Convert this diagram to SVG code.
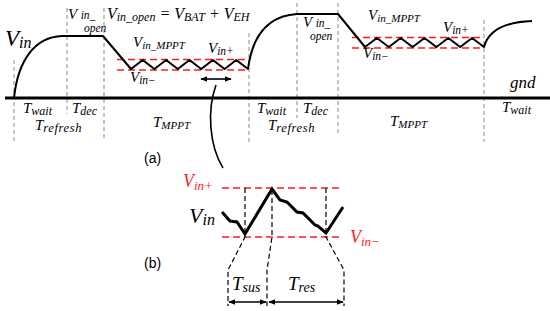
<svg xmlns="http://www.w3.org/2000/svg" width="550" height="311" viewBox="0 0 550 311">
<style>
.m{font-family:"Liberation Serif","DejaVu Serif",serif;font-style:italic;fill:#000}
.r{fill:#ff1a1a}
.s{font-family:"Liberation Sans",Arial,sans-serif;font-size:14px;fill:#000}
.wave{fill:none;stroke:#000;stroke-width:2;stroke-linejoin:round}
.gd{fill:none;stroke:#8a8a8a;stroke-width:1;stroke-dasharray:4 3}
.rd{fill:none;stroke:#ff1a1a;stroke-width:1.6;stroke-dasharray:7 4}
.bd{fill:none;stroke:#000;stroke-width:1.2;stroke-dasharray:5 3}
.ar{fill:none;stroke:#000;stroke-width:1.6}
</style>
<defs>
<marker id="ah" viewBox="0 0 10 10" refX="9" refY="5" markerWidth="7" markerHeight="7" orient="auto-start-reverse" markerUnits="userSpaceOnUse">
<path d="M0,1 L10,5 L0,9 Z" fill="#000"/>
</marker>
</defs>

<g id="part-a">
  <g id="grid">
    <path class="gd" d="M14,60 V142 M67,8 V114 M104,8 V140 M249,33 V142 M297,3 V118 M338,3 V136 M484,20 V142"/>
  </g>
  <line id="ground" x1="5" y1="98" x2="550" y2="98" stroke="#000" stroke-width="3"/>
  <g id="thresholds">
    <path class="rd" d="M117,59.5 H249 M117,70 H249 M352,37.5 H483 M352,48 H483"/>
  </g>
  <path id="vin-wave" class="wave" d="M14,98 C18,60 35,37 62,36 L103,36 L131,69 L142.7,60 L154.4,69 L166.1,60 L177.8,69 L189.5,60 L201.2,69 L212.9,60 L224.6,69 L236.3,60 L248,69 C252,38 266,16 297,14 L338,14 L365,47 L376.9,38 L388.8,47 L400.7,38 L412.6,47 L424.5,38 L436.4,47 L448.3,38 L460.2,47 L472.1,38 L484,47 C488,32 502,22 532,21"/>
  <g id="labels-a">
    <text class="m" x="5" y="46" font-size="23">V<tspan font-size="16" y="48">in</tspan></text>
    <text class="m" x="68" y="19" font-size="15">V <tspan font-size="11.5" y="19">in_</tspan></text>
    <text class="m" x="84" y="31.5" font-size="11.5">open</text>
    <text class="m" x="107" y="19" font-size="16">V<tspan font-size="12" y="21">in_open</tspan><tspan y="19"> = V</tspan><tspan font-size="12" y="21">BAT</tspan><tspan y="19"> + V</tspan><tspan font-size="12" y="21">EH</tspan></text>
    <text class="m" x="133" y="47" font-size="15">V<tspan font-size="11" y="49">in_MPPT</tspan></text>
    <text class="m" x="208" y="53" font-size="15">V<tspan font-size="11.5" y="55">in+</tspan></text>
    <text class="m" x="130" y="82" font-size="15">V<tspan font-size="11.5" y="84">in−</tspan></text>
    <text class="m" x="303" y="27" font-size="15">V <tspan font-size="11.5" y="27">in_</tspan></text>
    <text class="m" x="310" y="39.5" font-size="11.5">open</text>
    <text class="m" x="368" y="20" font-size="15">V<tspan font-size="11" y="22">in_MPPT</tspan></text>
    <text class="m" x="443" y="32" font-size="15">V<tspan font-size="11.5" y="34">in+</tspan></text>
    <text class="m" x="363" y="58" font-size="15">V<tspan font-size="11.5" y="60">in−</tspan></text>
    <text class="m" x="510" y="88" font-size="17">gnd</text>
    <text class="m" x="23" y="113" font-size="15">T<tspan font-size="12" y="115">wait</tspan></text>
    <text class="m" x="72" y="113" font-size="15">T<tspan font-size="12" y="115">dec</tspan></text>
    <text class="m" x="35" y="130" font-size="15">T<tspan font-size="12.5" y="132" letter-spacing="0.6">refresh</tspan></text>
    <text class="m" x="153" y="127" font-size="15">T<tspan font-size="11" y="129">MPPT</tspan></text>
    <text class="m" x="257" y="113" font-size="15">T<tspan font-size="12" y="115">wait</tspan></text>
    <text class="m" x="303" y="113" font-size="15">T<tspan font-size="12" y="115">dec</tspan></text>
    <text class="m" x="268" y="130" font-size="15">T<tspan font-size="12.5" y="132" letter-spacing="0.6">refresh</tspan></text>
    <text class="m" x="390" y="126" font-size="15">T<tspan font-size="11" y="128">MPPT</tspan></text>
    <text class="m" x="502" y="112" font-size="15">T<tspan font-size="12" y="114">wait</tspan></text>
    <text class="s" x="144" y="163">(a)</text>
  </g>
</g>

<g id="connectors">
  <line class="ar" x1="201" y1="79" x2="231" y2="79" marker-start="url(#ah)" marker-end="url(#ah)"/>
  <path class="ar" d="M216,85 C207,110 209,145 223,168" stroke-width="2"/>
  <line class="ar" x1="229" y1="302" x2="266" y2="302" marker-start="url(#ah)" marker-end="url(#ah)"/>
  <line class="ar" x1="269" y1="302" x2="343" y2="302" marker-start="url(#ah)" marker-end="url(#ah)"/>
</g>

<g id="part-b">
  <path class="rd" d="M222,188 H343 M222,237 H343" stroke-width="1.8" stroke-dasharray="8 5"/>
  <path class="bd" d="M245,188 V237 L228,270 V306 M272,190 V237 L267,270 V306 M326,188 V237 L344,270 V306"/>
  <path id="vin-detail" fill="none" stroke="#000" stroke-width="3" stroke-linejoin="miter" d="M222,212 L230,221 L237,222 L245,234 L272,189 L280,200 L287,202 L297,212 L303,213 L315,225 L318,226 L326,233 L343,207"/>
  <text class="m r" x="183" y="187" font-size="18">V<tspan font-size="13" y="190">in+</tspan></text>
  <text class="m" x="189" y="223" font-size="22">V<tspan font-size="16" y="225">in</tspan></text>
  <text class="m r" x="350" y="243" font-size="18">V<tspan font-size="13" y="246">in−</tspan></text>
  <text class="m" x="232" y="290" font-size="19">T<tspan font-size="14" y="292">sus</tspan></text>
  <text class="m" x="288" y="290" font-size="19">T<tspan font-size="14" y="292">res</tspan></text>
  <text class="s" x="144" y="268">(b)</text>
</g>
</svg>
